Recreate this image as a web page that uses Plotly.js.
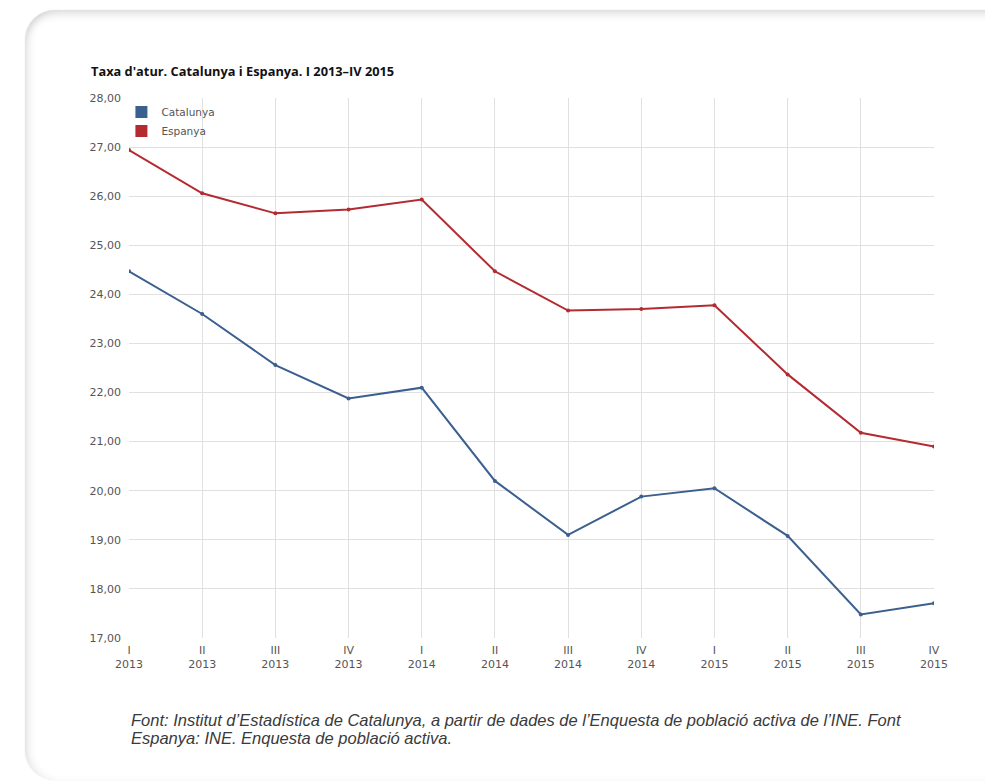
<!DOCTYPE html>
<html>
<head>
<meta charset="utf-8">
<script src="https://cdn.plot.ly/plotly-3.0.1.min.js"></script>
<style>
  html, body { margin: 0; padding: 0; background: #ffffff; }
  body { width: 985px; height: 782px; position: relative; overflow: hidden; }
  #card {
    position: absolute; left: 25px; top: 10px; width: 990px; height: 770px;
    border-radius: 30px; background: #ffffff;
    box-shadow: inset 0 7px 10px -3px rgba(0,0,0,0.13), inset 7px 0 10px -4px rgba(0,0,0,0.10),
                0 0 2px rgba(0,0,0,0.08);
  }
  #chart { position: absolute; left: 0; top: 0; width: 985px; height: 782px; }
</style>
</head>
<body>
<div id="card"></div>
<div id="chart"></div>
<script>
// Quarters shown on the x axis
const quarters = ['I<br>2013', 'II<br>2013', 'III<br>2013', 'IV<br>2013',
                  'I<br>2014', 'II<br>2014', 'III<br>2014', 'IV<br>2014',
                  'I<br>2015', 'II<br>2015', 'III<br>2015', 'IV<br>2015'];

// Unemployment rate (%)
const catalunya = [24.47, 23.60, 22.56, 21.88, 22.10, 20.20, 19.10, 19.88, 20.05, 19.08, 17.48, 17.71];
const espanya   = [26.94, 26.06, 25.65, 25.73, 25.93, 24.47, 23.67, 23.70, 23.78, 22.37, 21.18, 20.90];

const blue = '#3b5f8e';
const red = '#b32b30';

const lineTrace = (name, y, color) => ({
  type: 'scatter', mode: 'lines+markers', name: name,
  x: quarters, y: y, showlegend: false,
  line: { color: color, width: 2 },
  marker: { color: color, size: 4 },
  hovertemplate: '%{y:.2f}<extra>' + name + '</extra>'
});

// Legend entries with square swatches
const swatch = (name, color) => ({
  type: 'bar', name: name, x: [quarters[0]], y: [null],
  marker: { color: color, line: { width: 0 } }, showlegend: true, hoverinfo: 'skip'
});

const data = [
  lineTrace('Espanya', espanya, red),
  lineTrace('Catalunya', catalunya, blue),
  swatch('Catalunya', blue),
  swatch('Espanya', red)
];

const noteFont = { family: 'Liberation Sans, Arial, sans-serif', size: 16.5, color: '#3a3a3a' };

const layout = {
  width: 985, height: 782,
  paper_bgcolor: 'rgba(0,0,0,0)', plot_bgcolor: 'rgba(0,0,0,0)',
  margin: { l: 129, r: 51, t: 98, b: 144 },
  separators: ',.',
  font: { family: 'DejaVu Sans, sans-serif', color: '#555555', size: 11 },
  title: {
    text: "<b>Taxa d'atur. Catalunya i Espanya. I 2013–IV 2015</b>",
    xref: 'container', yref: 'container', x: 91 / 985, y: 1 - 72 / 782,
    xanchor: 'left', yanchor: 'middle',
    font: { family: 'Open Sans, sans-serif', size: 12.8, color: '#111111' }
  },
  xaxis: {
    type: 'category', range: [0, 11], showgrid: true, gridcolor: '#e0e0e0', gridwidth: 1,
    zeroline: false, showline: false, ticks: '', tickangle: 0, ticklabelstandoff: 4,
    tickfont: { size: 11, color: '#555555' }, fixedrange: true
  },
  yaxis: {
    range: [17, 28], dtick: 1, tick0: 17, tickformat: '.2f',
    showgrid: true, gridcolor: '#e0e0e0', gridwidth: 1, zeroline: false,
    showline: false, ticks: '', ticklabelstandoff: 7,
    tickfont: { size: 11, color: '#555555' }, fixedrange: true
  },
  legend: {
    x: 0.003, y: 1.001, xanchor: 'left', yanchor: 'top', indentation: -10,
    bgcolor: 'rgba(255,255,255,0)', traceorder: 'normal',
    font: { size: 10.5, color: '#555555' }, itemwidth: 30, tracegroupgap: 0
  },
  showlegend: true,
  bargap: 0.5,
  annotations: [
    {
      xref: 'paper', yref: 'paper', x: 0.0, y: (638 - 720) / 540, xanchor: 'left', yanchor: 'middle',
      align: 'left', showarrow: false, font: noteFont,
      text: "<i>Font: Institut d’Estadística de Catalunya, a partir de dades de l’Enquesta de població activa de l’INE. Font</i>"
    },
    {
      xref: 'paper', yref: 'paper', x: 0.0, y: (638 - 738) / 540, xanchor: 'left', yanchor: 'middle',
      align: 'left', showarrow: false, font: noteFont,
      text: "<i>Espanya: INE. Enquesta de població activa.</i>"
    }
  ]
};

Plotly.newPlot('chart', data, layout, { displayModeBar: false });
</script>
</body>
</html>
